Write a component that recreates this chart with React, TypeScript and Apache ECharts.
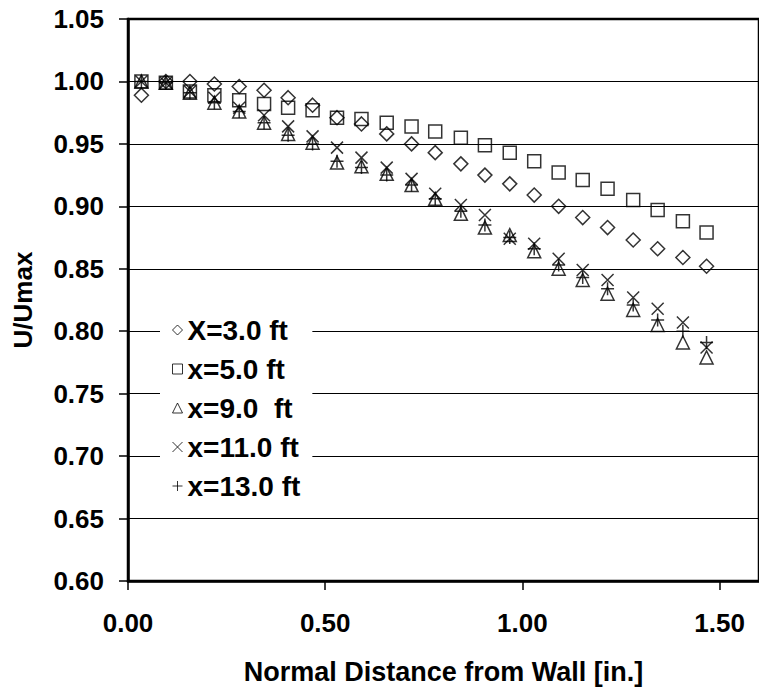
import React, { useEffect, useRef } from "react";
import * as echarts from "echarts";

// Normal distance from wall [in.]
const distance = [
  0.034, 0.096, 0.157, 0.219, 0.282, 0.345, 0.406, 0.468, 0.53, 0.592, 0.656, 0.719,
  0.779, 0.844, 0.905, 0.968, 1.03, 1.092, 1.153, 1.216, 1.281, 1.343, 1.407, 1.467,
];

// U/Umax per station
const x3ft = [
  0.989, 1.0, 1.0, 0.998, 0.996, 0.993, 0.987, 0.981, 0.971, 0.966, 0.958, 0.95,
  0.943, 0.934, 0.925, 0.918, 0.909, 0.9, 0.891, 0.883, 0.873, 0.866, 0.859, 0.852,
];
const x5ft = [
  1.0, 0.999, 0.992, 0.989, 0.985, 0.982, 0.979, 0.977, 0.971, 0.97, 0.967, 0.964,
  0.96, 0.955, 0.949, 0.943, 0.936, 0.927, 0.921, 0.914, 0.905, 0.897, 0.888, 0.879,
];
const x9ft = [
  1.0, 0.999, 0.991, 0.983, 0.976, 0.967, 0.958, 0.951, 0.935, 0.932, 0.926, 0.917,
  0.906, 0.894, 0.883, 0.877, 0.864, 0.85, 0.841, 0.83, 0.817, 0.805, 0.791, 0.779,
];
const x11ft = [
  1.0, 0.999, 0.992, 0.987, 0.979, 0.973, 0.964, 0.956, 0.947, 0.939, 0.931, 0.922,
  0.91, 0.901, 0.893, 0.874, 0.87, 0.858, 0.849, 0.841, 0.827, 0.818, 0.807, 0.787,
];
const x13ft = [
  1.0, 0.999, 0.991, 0.983, 0.976, 0.967, 0.957, 0.95, 0.936, 0.931, 0.925, 0.917,
  0.906, 0.896, 0.885, 0.875, 0.866, 0.853, 0.843, 0.834, 0.821, 0.809, 0.8, 0.791,
];

const seriesNames = ["X=3.0 ft", "x=5.0 ft", "x=9.0  ft", "x=11.0 ft", "x=13.0 ft"];
const seriesValues = [x3ft, x5ft, x9ft, x11ft, x13ft];
const seriesSymbols = [
  "diamond",
  "rect",
  "triangle",
  "path://M0,0L10,10M10,0L0,10",
  "path://M5,0L5,10M0,5L10,5",
];
const seriesSizes = [14, 13, 13, 12, 13];

const FONT = "'Liberation Sans', Arial, sans-serif";

export default function App() {
  const ref = useRef<HTMLDivElement>(null);

  useEffect(() => {
    if (!ref.current) return;
    const chart = echarts.init(ref.current, null, { renderer: "svg" });

    const series = seriesNames.map((name, s) => ({
      name,
      type: "scatter",
      symbol: seriesSymbols[s],
      symbolSize: seriesSizes[s],
      data: distance.map((d, i) => [d, seriesValues[s][i]]),
      itemStyle: {
        color: "transparent",
        borderColor: "#000",
        borderWidth: 1.5,
      },
      emphasis: { disabled: true },
    }));

    chart.setOption({
      animation: false,
      backgroundColor: "#fff",
      grid: {
        left: 128,
        top: 19,
        bottom: 110,
        right: -7,
        show: true,
        borderColor: "#000",
        borderWidth: 2.5,
        backgroundColor: "transparent",
      },
      xAxis: {
        type: "value",
        min: 0,
        max: 1.6,
        interval: 0.5,
        name: "Normal Distance from Wall [in.]",
        nameLocation: "middle",
        nameGap: 77,
        nameTextStyle: {
          fontFamily: FONT,
          fontWeight: "bold",
          fontSize: 27,
          color: "#000",
        },
        axisLine: { show: true, lineStyle: { color: "#000", width: 2.5 } },
        axisTick: { show: true, length: 9, lineStyle: { color: "#000", width: 1.5 } },
        axisLabel: {
          margin: 29,
          showMaxLabel: false,
          fontFamily: FONT,
          fontWeight: "bold",
          fontSize: 26,
          color: "#000",
          formatter: (v: number) => v.toFixed(2),
        },
        splitLine: { show: false },
      },
      yAxis: {
        type: "value",
        min: 0.6,
        max: 1.05,
        interval: 0.05,
        name: "U/Umax",
        nameLocation: "middle",
        nameGap: 92,
        nameTextStyle: {
          fontFamily: FONT,
          fontWeight: "bold",
          fontSize: 26,
          color: "#000",
        },
        axisLine: { show: true, lineStyle: { color: "#000", width: 2.5 } },
        axisTick: { show: true, length: 9, lineStyle: { color: "#000", width: 1.5 } },
        axisLabel: {
          margin: 24,
          fontFamily: FONT,
          fontWeight: "bold",
          fontSize: 26,
          color: "#000",
          formatter: (v: number) => v.toFixed(2),
        },
        splitLine: { show: true, lineStyle: { color: "#000", width: 1.2 } },
      },
      legend: {
        orient: "vertical",
        left: 160,
        top: 308,
        padding: [8, 12, 8, 12],
        backgroundColor: "#fff",
        itemWidth: 10,
        itemHeight: 10,
        itemGap: 11,
        selectedMode: false,
        itemStyle: { borderWidth: 1 },
        textStyle: {
          fontFamily: FONT,
          fontWeight: "bold",
          fontSize: 28,
          lineHeight: 28,
          color: "#000",
        },
        data: seriesNames,
      },
      series,
    });

    return () => chart.dispose();
  }, []);

  return (
    <div
      ref={ref}
      style={{ position: "fixed", left: 0, top: 0, width: 759, height: 691 }}
    />
  );
}
